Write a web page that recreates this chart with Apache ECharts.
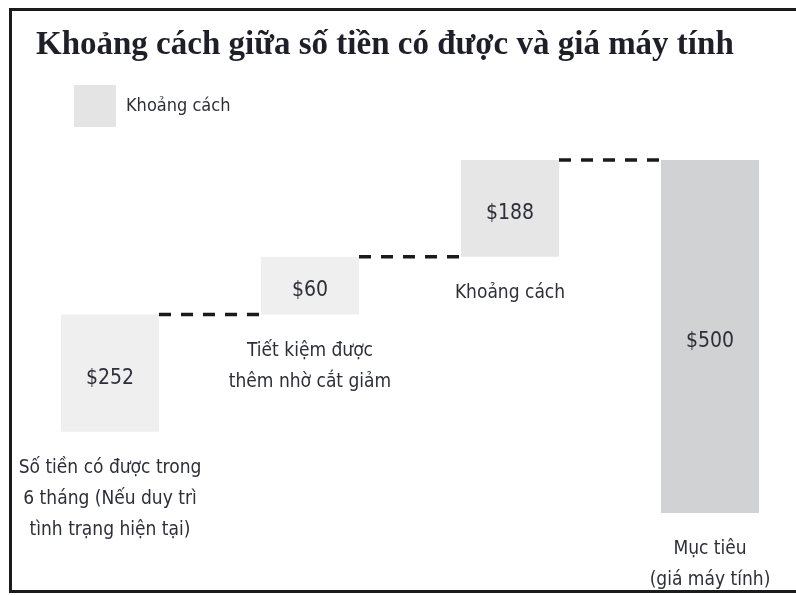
<!DOCTYPE html>
<html>
<head>
<meta charset="utf-8">
<script src="https://cdn.jsdelivr.net/npm/echarts@6/dist/echarts.min.js"></script>
<style>
  html, body { margin: 0; padding: 0; background: #fff; overflow: hidden; }
  #main { width: 796px; height: 595px; }
  #frame {
    position: absolute; left: 9px; top: 8px; width: 800px; height: 579px;
    border-left: 3px solid #1b1b1b; border-top: 3px solid #1b1b1b; border-bottom: 3px solid #1b1b1b;
    pointer-events: none;
  }
</style>
</head>
<body>
<div id="main"></div>
<div id="frame"></div>
<script>
// số liệu
const categories = ["Hiện tại", "Cắt giảm", "Khoảng cách", "Mục tiêu"];
const amounts = [252, 60, 188, 500];
const captions = [
  "Số tiền có được trong\n6 tháng (Nếu duy trì\ntình trạng hiện tại)",
  "Tiết kiệm được\nthêm nhờ cắt giảm",
  "Khoảng cách",
  "Mục tiêu\n(giá máy tính)"
];
// chiều cao các cột như trong hình (không theo tỷ lệ số tiền)
const drawnBase = [115, 281, 363, 0];
const drawnHeight = [166, 82, 137, 500];

const BAR_W = 98;
const barColors = ["#efefef", "#efefef", "#e6e6e6", "#d1d2d4"];
const textColor = "#2e2e3a";
const narrow = "'Liberation Sans Narrow', 'DejaVu Sans Condensed', sans-serif";

let levels = drawnBase.slice(0, 3).map((b, i) => [i, b + drawnHeight[i]]);

let myChart = echarts.init(document.getElementById("main"));
let option = {
  animation: false,
  title: {
    text: "Khoảng cách giữa số tiền có được và giá máy tính",
    left: 31,
    top: 24,
    textStyle: {
      fontFamily: "'Liberation Serif', serif",
      fontSize: 33,
      fontWeight: "bold",
      color: "#1f1f2a"
    }
  },
  legend: {
    data: [{ name: "Khoảng cách", itemStyle: { color: "#e4e4e4" } }],
    left: 69,
    top: 80,
    icon: "rect",
    itemWidth: 42,
    itemHeight: 42,
    textStyle: {
      fontFamily: narrow,
      fontSize: 18,
      color: textColor,
      padding: [0, 0, 0, 5]
    }
  },
  grid: {
    left: 110,
    right: 86,
    top: 160,
    bottom: 82
  },
  xAxis: {
    type: "category",
    data: categories,
    boundaryGap: false,
    show: false
  },
  yAxis: {
    type: "value",
    min: 0,
    max: 500,
    show: false
  },
  series: [
    {
      name: "base",
      type: "bar",
      stack: "w",
      barWidth: BAR_W,
      clip: false,
      silent: true,
      itemStyle: { color: "transparent" },
      data: drawnBase
    },
    {
      name: "Khoảng cách",
      type: "bar",
      stack: "w",
      barWidth: BAR_W,
      clip: false,
      itemStyle: {
        color: (p) => barColors[p.dataIndex]
      },
      label: {
        show: true,
        position: "inside",
        offset: [0, 5],
        fontFamily: narrow,
        fontSize: 21,
        color: textColor,
        formatter: (p) => "$" + amounts[p.dataIndex]
      },
      data: drawnHeight
    },
    {
      // chú thích dưới mỗi cột
      name: "captions",
      type: "scatter",
      symbol: "rect",
      symbolSize: 1,
      silent: true,
      itemStyle: { color: "transparent" },
      label: {
        show: true,
        position: "bottom",
        distance: 20,
        align: "center",
        fontFamily: narrow,
        fontSize: 19,
        lineHeight: 31,
        color: textColor,
        opacity: 1,
        formatter: (p) => captions[p.dataIndex]
      },
      data: drawnBase
    },
    {
      // đường gạch nối các cột
      name: "dash",
      type: "custom",
      silent: true,
      encode: { x: 0, y: 1 },
      renderItem: (params, api) => {
        let i = api.value(0);
        let level = api.value(1);
        let a = api.coord([i, level]);
        let b = api.coord([i + 1, level]);
        return {
          type: "line",
          shape: { x1: a[0] + BAR_W / 2, y1: a[1], x2: b[0] - BAR_W / 2, y2: b[1] },
          style: { stroke: "#1b1b1b", lineWidth: 3.5, lineDash: [12, 10] }
        };
      },
      data: levels
    }
  ]
};
myChart.setOption(option);
</script>
</body>
</html>
